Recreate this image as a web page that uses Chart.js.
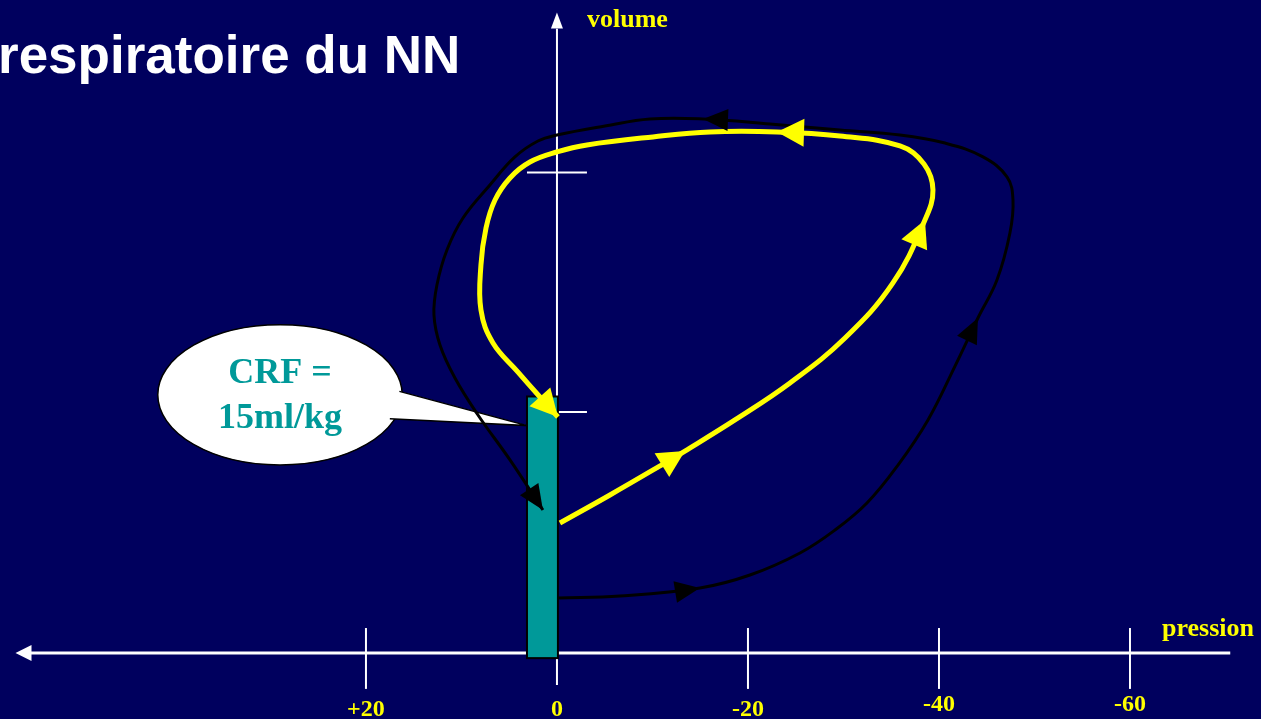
<!DOCTYPE html>
<html lang="fr">
<head>
<meta charset="utf-8">
<title>Boucle pression-volume du NN</title>
<script src="https://cdn.jsdelivr.net/npm/chart.js@4.4.1/dist/chart.umd.min.js"></script>
<style>
  html, body { margin: 0; padding: 0; background: #00005e; overflow: hidden; }
  canvas { display: block; }
</style>
</head>
<body>
<canvas id="boucle" width="1261" height="719"></canvas>
<script>
// Boucle jaune (pression en cmH2O, volume en ml/kg)
const yellowPression = [-0.31, -5.55, -10.79, -13.40, -18.64, -24.40, -30.16, -35.18, -38.53, -39.37, -38.43, -35.92, -29.63, -23.04, -16.02, -10.05, -3.14, 0.00, 2.83, 4.92, 6.49, 7.43, 7.96, 7.96, 6.70, 4.08, 1.78, -0.10];
const yellowVolume = [7.60, 9.24, 10.94, 11.81, 13.63, 15.79, 18.42, 21.64, 25.32, 27.08, 28.60, 29.65, 30.23, 30.47, 30.47, 30.18, 29.71, 29.30, 28.71, 27.78, 26.49, 24.85, 22.69, 20.06, 18.13, 16.43, 14.97, 13.80];
const yellowArrows = [3, 8, 13, 27];

// Boucle noire
const blackPression = [-0.10, -6.60, -14.97, -20.21, -25.45, -29.11, -32.46, -35.71, -38.85, -41.68, -44.08, -46.07, -47.43, -47.75, -47.12, -44.61, -40.63, -35.92, -29.63, -22.30, -15.29, -9.74, -5.03, 0.00, 1.99, 4.40, 7.02, 9.84, 11.52, 12.57, 12.88, 12.25, 10.68, 8.27, 4.92, 1.47];
const blackVolume = [3.22, 3.33, 3.80, 4.56, 5.85, 7.19, 8.77, 10.99, 13.63, 16.78, 19.59, 21.81, 24.56, 26.49, 27.84, 29.01, 29.82, 30.29, 30.58, 30.94, 31.23, 31.23, 30.82, 30.29, 29.94, 29.01, 27.37, 25.44, 23.57, 21.52, 19.77, 18.01, 16.08, 13.92, 11.29, 8.36];
const blackArrows = [2, 10, 20, 35];

// Axes
const pressionTicks = [20, 0, -20, -40, -60];
const pressionLabels = ['+20', '0', '-20', '-40', '-60'];
const volumeTicks = [14.1, 28.1];
const crfValue = 15;
const crfText = ['CRF =', '15ml/kg'];

const toPoints = (xs, ys) => xs.map((x, i) => ({ x: x, y: ys[i] }));

function arrowHead(ctx, x, y, angle, len, half, color) {
    ctx.save();
    ctx.translate(x, y);
    ctx.rotate(angle);
    ctx.beginPath();
    ctx.moveTo(0, 0);
    ctx.lineTo(-len, -half);
    ctx.lineTo(-len, half);
    ctx.closePath();
    ctx.fillStyle = color;
    ctx.fill();
    ctx.restore();
}

// fond : axes, bulle CRF, barre CRF
const decorPlugin = {
    id: 'decor',
    beforeDatasetsDraw(chart) {
        const ctx = chart.ctx;
        const sx = chart.scales.x, sy = chart.scales.y;
        const X = v => sx.getPixelForValue(v);
        const Y = v => sy.getPixelForValue(v);

        ctx.save();
        ctx.strokeStyle = '#ffffff';
        ctx.fillStyle = '#ffffff';

        // axe des pressions
        ctx.lineWidth = 3;
        ctx.beginPath();
        ctx.moveTo(X(55.2), Y(0));
        ctx.lineTo(X(-70.5), Y(0));
        ctx.stroke();
        arrowHead(ctx, X(56.7), Y(0), Math.PI, 16, 8, '#ffffff');

        // axe des volumes
        ctx.lineWidth = 2;
        ctx.beginPath();
        ctx.moveTo(X(0), Y(-1.87));
        ctx.lineTo(X(0), Y(36.5));
        ctx.stroke();
        arrowHead(ctx, X(0), Y(37.45), -Math.PI / 2, 16, 6, '#ffffff');

        // graduations
        pressionTicks.forEach(t => {
            if (t === 0) return;
            ctx.beginPath();
            ctx.moveTo(X(t), Y(1.46));
            ctx.lineTo(X(t), Y(-2.1));
            ctx.stroke();
        });
        volumeTicks.forEach(t => {
            ctx.beginPath();
            ctx.moveTo(X(3.14), Y(t));
            ctx.lineTo(X(-3.14), Y(t));
            ctx.stroke();
        });

        // bulle
        const cx = X(29.0), cy = Y(15.1);
        const rx = Math.abs(X(29.0 - 12.8) - cx), ry = Math.abs(Y(15.1 + 4.1) - cy);
        ctx.fillStyle = '#ffffff';
        ctx.strokeStyle = '#000000';
        ctx.lineWidth = 1.5;
        ctx.beginPath();
        ctx.ellipse(cx, cy, rx, ry, 0, 0, Math.PI * 2);
        ctx.fill();
        ctx.stroke();
        const b1 = [X(16.5), Y(15.3)], tip = [X(3.14), Y(13.3)], b2 = [X(17.5), Y(13.7)];
        ctx.beginPath();
        ctx.moveTo(b1[0], b1[1]);
        ctx.lineTo(tip[0], tip[1]);
        ctx.lineTo(b2[0], b2[1]);
        ctx.lineTo(X(20), Y(14.5));
        ctx.closePath();
        ctx.fill();
        ctx.beginPath();
        ctx.moveTo(b1[0], b1[1]);
        ctx.lineTo(tip[0], tip[1]);
        ctx.lineTo(b2[0], b2[1]);
        ctx.stroke();

        ctx.fillStyle = '#009999';
        ctx.font = 'bold 36px "Liberation Serif", "DejaVu Serif", serif';
        ctx.textAlign = 'center';
        ctx.textBaseline = 'alphabetic';
        ctx.fillText(crfText[0], cx, cy - 12);
        ctx.fillText(crfText[1], cx, cy + 33);

        // barre CRF
        const left = X(3.14), right = X(-0.1);
        const top = Y(crfValue), bottom = Y(-0.3);
        ctx.fillStyle = '#009999';
        ctx.fillRect(left, top, right - left, bottom - top);
        ctx.lineWidth = 2;
        ctx.strokeStyle = '#000000';
        ctx.strokeRect(left, top, right - left, bottom - top);
        ctx.restore();
    },
    afterDatasetsDraw(chart) {
        const ctx = chart.ctx;
        const sx = chart.scales.x;

        // têtes de flèche sur les boucles
        chart.data.datasets.forEach((ds, di) => {
            const pts = chart.getDatasetMeta(di).data;
            ds.arrows.forEach(i => {
                const p = pts[i];
                let dx, dy;
                if (i === pts.length - 1) {
                    dx = p.x - pts[i - 1].x;
                    dy = p.y - pts[i - 1].y;
                } else {
                    dx = pts[i + 1].x - pts[i - 1].x;
                    dy = pts[i + 1].y - pts[i - 1].y;
                }
                arrowHead(ctx, p.x, p.y, Math.atan2(dy, dx), ds.arrowLen, ds.arrowHalf, ds.borderColor);
            });
        });

        // textes
        ctx.save();
        ctx.fillStyle = '#ffff00';
        ctx.font = 'bold 24px "Liberation Serif", "DejaVu Serif", serif';
        ctx.textAlign = 'center';
        ctx.textBaseline = 'alphabetic';
        pressionTicks.forEach((t, i) => {
            ctx.fillText(pressionLabels[i], sx.getPixelForValue(t), t <= -40 ? 711 : 716);
        });
        ctx.font = 'bold 26px "Liberation Serif", "DejaVu Serif", serif';
        ctx.textAlign = 'left';
        ctx.fillText('volume', sx.getPixelForValue(0) + 30, 27);
        ctx.textAlign = 'right';
        ctx.fillText('pression', 1254, 636);

        ctx.fillStyle = '#ffffff';
        ctx.textAlign = 'left';
        ctx.font = 'bold 53px "Liberation Sans", Arial, sans-serif';
        ctx.fillText('respiratoire du NN', -2, 73);
        ctx.restore();
    }
};

new Chart(document.getElementById('boucle'), {
    type: 'line',
    data: {
        datasets: [
            {
                label: 'boucle noire',
                data: toPoints(blackPression, blackVolume),
                borderColor: '#000000',
                borderWidth: 3,
                tension: 0.4,
                pointRadius: 0,
                fill: false,
                arrows: blackArrows,
                arrowLen: 25,
                arrowHalf: 11
            },
            {
                label: 'boucle jaune',
                data: toPoints(yellowPression, yellowVolume),
                borderColor: '#ffff00',
                borderWidth: 5,
                tension: 0.4,
                pointRadius: 0,
                fill: false,
                arrows: yellowArrows,
                arrowLen: 27,
                arrowHalf: 14
            }
        ]
    },
    options: {
        responsive: false,
        animation: false,
        events: [],
        layout: { padding: 0 },
        plugins: { legend: { display: false }, tooltip: { enabled: false } },
        scales: {
            x: { type: 'linear', reverse: true, min: -73.72, max: 58.32, display: false },
            y: { type: 'linear', min: -3.86, max: 38.187, display: false }
        }
    },
    plugins: [decorPlugin]
});
</script>
</body>
</html>
